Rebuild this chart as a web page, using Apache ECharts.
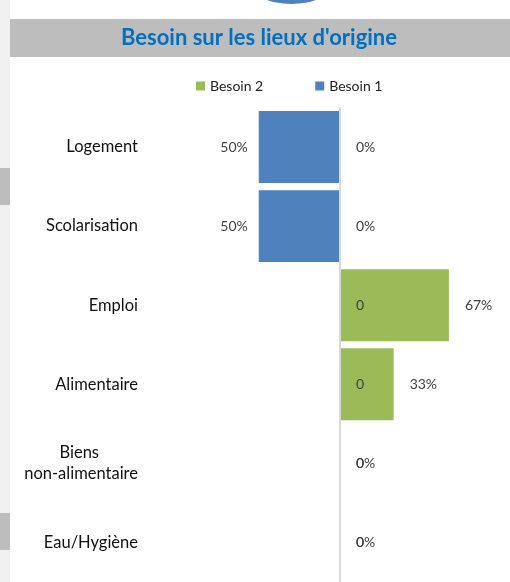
<!DOCTYPE html>
<html>
<head>
<meta charset="utf-8">
<script src="https://cdn.jsdelivr.net/npm/echarts@6/dist/echarts.min.js"></script>
<style>
    html, body {margin: 0; padding: 0; background: #fff;}
    #chart {width: 510px; height: 582px;}
</style>
</head>
<body>
<div id="chart"></div>
<script>
// categories, top to bottom
var categories = ['Logement', 'Scolarisation', 'Emploi', 'Alimentaire', 'Biens\nnon-alimentaire', 'Eau/Hygiène'];
// Besoin 1 (drawn to the left), Besoin 2 (drawn to the right), in %
var besoin1 = [50, 50, 0, 0, 0, 0];
var besoin2 = [0, 0, 67, 33, 0, 0];
var legendNames = ['Besoin 2', 'Besoin 1'];

var blue = '#4f81bd';
var green = '#9bbb59';
var labelColor = '#404040';

// besoin 1 part a gauche -> valeurs negatives
function leftData(arr) {
    return arr.map(function (v) {
        if (v === 0) {
            return {
                value: 0,
                label: {position: 'right', distance: 16, formatter: '0'}
            };
        }
        return -v;
    });
}

var myChart = echarts.init(document.getElementById('chart'));

var option = {
    animation: false,
    textStyle: {fontFamily: 'Lato'},
    title: {
        text: "Besoin sur les lieux d'origine",
        left: 259,
        textAlign: 'center',
        top: 27,
        padding: 0,
        textStyle: {color: '#0070c0', fontSize: 22, fontWeight: 'bold', fontFamily: 'Lato'}
    },
    graphic: [
        // bande grise a gauche
        {type: 'rect', z: -10, shape: {x: 0, y: 0, width: 10, height: 582}, style: {fill: '#f0f0f0'}},
        {type: 'rect', z: -9, shape: {x: 0, y: 168, width: 10, height: 37}, style: {fill: '#bdbdbd'}},
        {type: 'rect', z: -9, shape: {x: 0, y: 513, width: 10, height: 37}, style: {fill: '#bdbdbd'}},
        // bandeau du titre
        {type: 'rect', z: -10, shape: {x: 10, y: 19, width: 500, height: 38}, style: {fill: '#bdbdbd'}},
        // bout de cercle en haut
        {type: 'circle', z: -10, shape: {cx: 291.5, cy: -74, r: 78}, style: {fill: '#4f81bd'}}
    ],
    legend: {
        data: legendNames,
        left: 196,
        top: 79,
        padding: 0,
        itemWidth: 9,
        itemHeight: 9,
        itemGap: 52,
        icon: 'rect',
        textStyle: {color: '#222', fontSize: 14, fontFamily: 'Lato'}
    },
    grid: {
        left: 145,
        right: 7.5,
        top: 107.5,
        bottom: 0,
        containLabel: false
    },
    xAxis: {
        type: 'value',
        min: -120,
        max: 100,
        show: false
    },
    yAxis: {
        type: 'category',
        inverse: true,
        data: categories,
        axisLine: {show: false},
        axisTick: {show: false},
        axisLabel: {
            margin: 7,
            color: '#111',
            fontSize: 16.5,
            fontFamily: 'Lato',
            lineHeight: 21,
            formatter: function (val) {
                if (val.indexOf('\n') > -1) {
                    var parts = val.split('\n');
                    return '{a|' + parts[0] + '}\n{b|' + parts[1] + '}';
                }
                return val;
            },
            rich: {
                a: {fontSize: 16.5, fontFamily: 'Lato', color: '#111', padding: [0, 39, 0, 0], lineHeight: 21},
                b: {fontSize: 16.5, fontFamily: 'Lato', color: '#111', lineHeight: 21}
            }
        }
    },
    series: [
        {
            name: 'Besoin 1',
            type: 'bar',
            data: leftData(besoin1),
            barWidth: '91%',
            barGap: '-100%',
            itemStyle: {color: blue},
            label: {
                show: true,
                position: 'left',
                distance: 11,
                color: labelColor,
                fontSize: 14,
                fontFamily: 'Lato',
                formatter: function (p) {
                    return Math.abs(p.value) + '%';
                }
            }
        },
        {
            name: 'Besoin 2',
            type: 'bar',
            data: besoin2,
            barWidth: '91%',
            itemStyle: {color: green},
            label: {
                show: true,
                position: 'right',
                distance: 16,
                color: labelColor,
                fontSize: 14,
                fontFamily: 'Lato',
                formatter: '{c}%'
            },
            markLine: {
                silent: true,
                symbol: 'none',
                label: {show: false},
                lineStyle: {color: '#d9d9d9', width: 2, type: 'solid'},
                data: [{xAxis: 0}]
            }
        }
    ]
};

myChart.setOption(option);
</script>
</body>
</html>
